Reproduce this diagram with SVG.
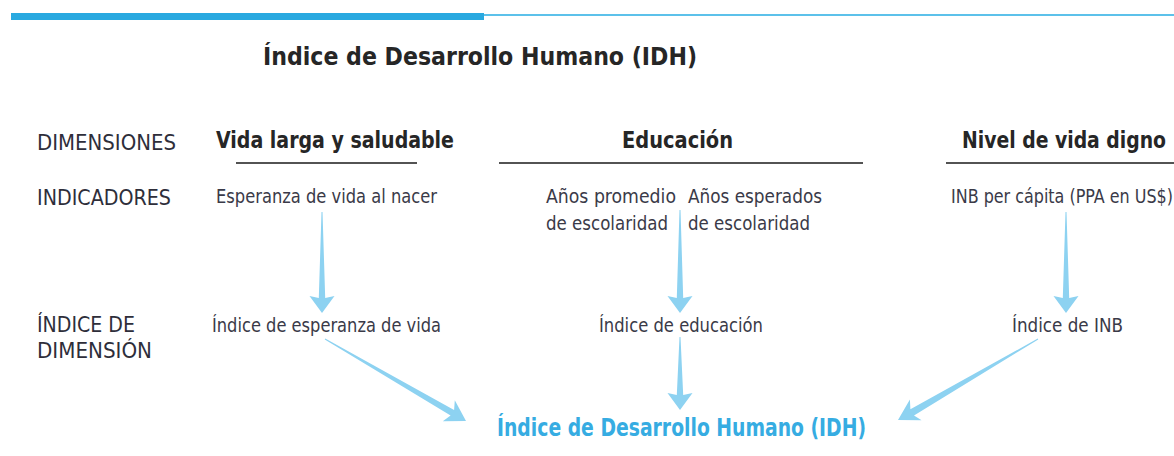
<svg xmlns="http://www.w3.org/2000/svg" width="1174" height="456" viewBox="0 0 1174 456">
<style>
  text { font-family: "Liberation Sans Narrow", "DejaVu Sans Condensed", "Liberation Sans", sans-serif; }
  .title { font-size: 25px; font-weight: bold; fill: #262626; }
  .row { font-size: 21px; fill: #2e2e3a; }
  .dim { font-size: 23px; font-weight: bold; fill: #262626; }
  .ind { font-size: 20px; fill: #3a3a48; }
  .idh { font-size: 25px; font-weight: bold; fill: #36ace2; }
  .rule { stroke: #1a1a1a; stroke-width: 1.6; }
  .arrow { fill: #8dd2f1; }
</style>
<rect x="11" y="13" width="473" height="7" fill="#29a9e0"/>
<rect x="484" y="14" width="690" height="2" fill="#5cc1ea"/>
<text class="title" x="263" y="65" textLength="434" lengthAdjust="spacingAndGlyphs">Índice de Desarrollo Humano (IDH)</text>
<g id="row-labels">
  <text class="row" x="37" y="150" textLength="139" lengthAdjust="spacingAndGlyphs">DIMENSIONES</text>
  <text class="row" x="37" y="205" textLength="134" lengthAdjust="spacingAndGlyphs">INDICADORES</text>
  <text class="row" x="37" y="332" textLength="98" lengthAdjust="spacingAndGlyphs">ÍNDICE DE</text>
  <text class="row" x="37" y="358" textLength="115" lengthAdjust="spacingAndGlyphs">DIMENSIÓN</text>
</g>
<g id="dim-vida">
  <text class="dim" x="216" y="148" textLength="238" lengthAdjust="spacingAndGlyphs">Vida larga y saludable</text>
  <line class="rule" x1="236" y1="163" x2="417" y2="163"/>
</g>
<g id="dim-educacion">
  <text class="dim" x="622" y="148" textLength="111" lengthAdjust="spacingAndGlyphs">Educación</text>
  <line class="rule" x1="499" y1="163" x2="863" y2="163"/>
</g>
<g id="dim-nivel">
  <text class="dim" x="962" y="148" textLength="204" lengthAdjust="spacingAndGlyphs">Nivel de vida digno</text>
  <line class="rule" x1="946" y1="163" x2="1174" y2="163"/>
</g>
<g id="ind-esperanza">
  <text class="ind" x="216" y="203" textLength="221" lengthAdjust="spacingAndGlyphs">Esperanza de vida al nacer</text>
</g>
<g id="ind-promedio">
  <text class="ind" x="546" y="203" textLength="130" lengthAdjust="spacingAndGlyphs">Años promedio</text>
  <text class="ind" x="546" y="230" textLength="122" lengthAdjust="spacingAndGlyphs">de escolaridad</text>
</g>
<g id="ind-esperados">
  <text class="ind" x="688" y="203" textLength="134" lengthAdjust="spacingAndGlyphs">Años esperados</text>
  <text class="ind" x="688" y="230" textLength="122" lengthAdjust="spacingAndGlyphs">de escolaridad</text>
</g>
<g id="ind-inb">
  <text class="ind" x="951" y="203" textLength="222" lengthAdjust="spacingAndGlyphs">INB per cápita (PPA en US$)</text>
</g>
<g id="idx-esperanza">
  <text class="ind" x="212" y="332" textLength="229" lengthAdjust="spacingAndGlyphs">Índice de esperanza de vida</text>
</g>
<g id="idx-educacion">
  <text class="ind" x="599" y="332" textLength="164" lengthAdjust="spacingAndGlyphs">Índice de educación</text>
</g>
<g id="idx-inb">
  <text class="ind" x="1012" y="332" textLength="111" lengthAdjust="spacingAndGlyphs">Índice de INB</text>
</g>
<g id="idh">
  <text class="idh" x="497" y="436" textLength="369" lengthAdjust="spacingAndGlyphs">Índice de Desarrollo Humano (IDH)</text>
</g>
<g id="connectors">
  <polygon class="arrow" points="321.5,212 318.8,298 309.5,296 322,313 334.5,296 325.2,298 322.5,212"/>
  <polygon class="arrow" points="679.5,210 676.8,298 667.5,296 680,313 692.5,296 683.2,298 680.5,210"/>
  <polygon class="arrow" points="1065.5,212 1062.8,298 1053.5,296 1066,313 1078.5,296 1069.2,298 1066.5,212"/>
  <polygon class="arrow" points="679.5,337 676.8,395 667.5,393 680,410 692.5,393 683.2,395 680.5,337"/>
  <polygon class="arrow" points="324.75,339.43 450.6,415.5 442.8,421.3 466,421 454.8,400.2 454.1,410.0 325.25,338.57"/>
  <polygon class="arrow" points="1037.75,338.57 910.4,409.3 909.9,399.6 898,420 921.6,420.3 914.0,415.4 1038.25,339.43"/>
</g>
</svg>
